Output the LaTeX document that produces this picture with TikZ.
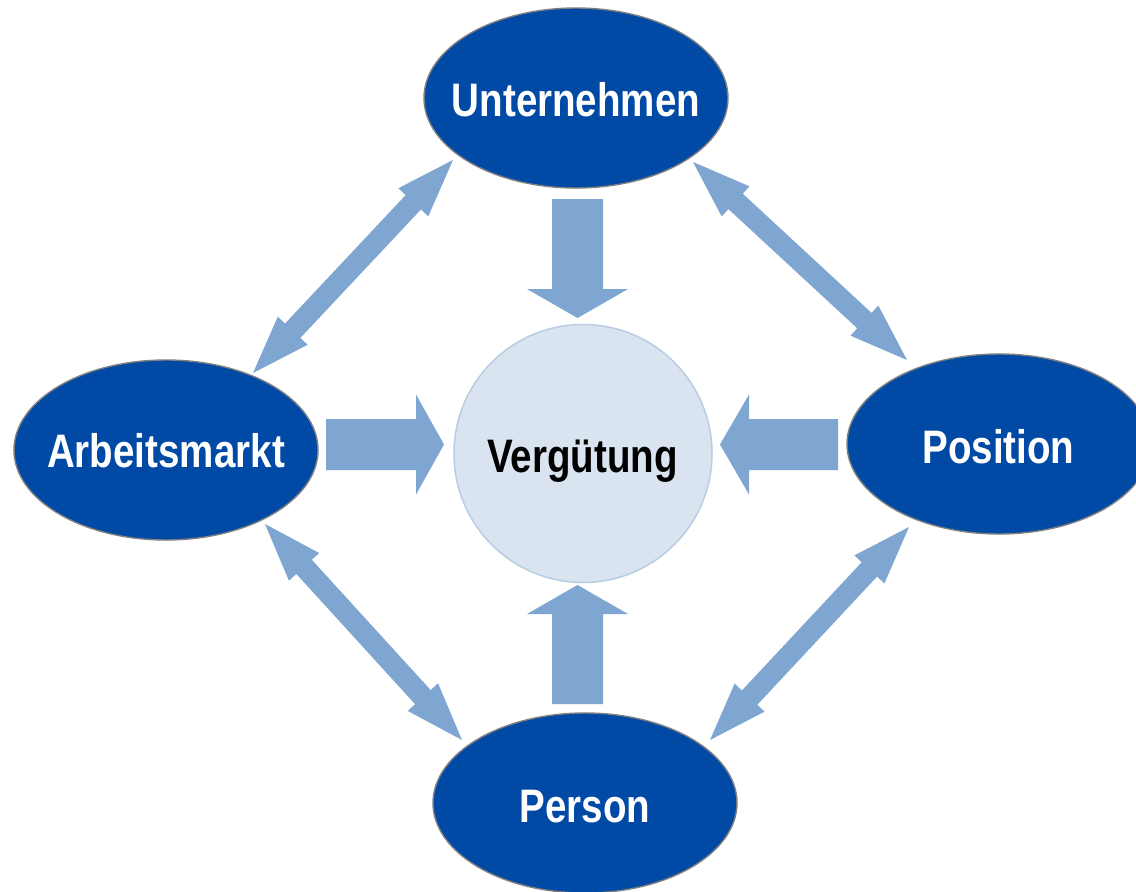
\documentclass[tikz,border=0pt]{standalone}
\usepackage{fontspec}
\newfontfamily\lblfont{Liberation Sans}[FakeStretch=0.82]
\usetikzlibrary{calc,shapes.geometric}
\definecolor{darkfill}{HTML}{004AA5}
\definecolor{edgegray}{HTML}{808080}
\definecolor{arrowblue}{HTML}{7FA5D1}
\definecolor{circfill}{HTML}{DAE4F0}
\definecolor{circedge}{HTML}{B8CCE4}
\newcommand\myblockarrow[5]{%
  \path let \p1=($(#2)-(#1)$) in \pgfextra{\pgfmathsetmacro\myang{atan2(\y1,\x1)}\pgfmathsetmacro\mylen{veclen(\x1,\y1)}\xdef\MYANG{\myang}\xdef\MYLEN{\mylen}};
  \fill[arrowfill,shift={(#1)},rotate=\MYANG] (0,-#3) -- (\MYLEN-#5,-#3) -- (\MYLEN-#5,-#4) -- (\MYLEN,0) -- (\MYLEN-#5,#4) -- (\MYLEN-#5,#3) -- (0,#3) -- cycle;
}
\newcommand\mydoublearrow[5]{%
  \path let \p1=($(#2)-(#1)$) in \pgfextra{\pgfmathsetmacro\myang{atan2(\y1,\x1)}\pgfmathsetmacro\mylen{veclen(\x1,\y1)}\xdef\MYANG{\myang}\xdef\MYLEN{\mylen}};
  \fill[arrowfill,shift={(#1)},rotate=\MYANG] (#5,-#3) -- (\MYLEN-#5,-#3) -- (\MYLEN-#5,-#4) -- (\MYLEN,0) -- (\MYLEN-#5,#4) -- (\MYLEN-#5,#3) -- (#5,#3) -- (#5,#4) -- (0,0) -- (#5,-#4) -- cycle;
}
\tikzset{
  arrowfill/.style={fill=arrowblue},
  ell/.style={ellipse, draw=edgegray, line width=1.4pt, fill=darkfill, minimum width=304pt, minimum height=180pt, inner sep=0pt},
  circ/.style={circle, draw=circedge, line width=1.5pt, fill=circfill, minimum size=258pt, inner sep=0pt},
  lbl/.style={anchor=base, inner sep=0pt, font=\lblfont\bfseries\fontsize{47}{50}\selectfont},
}
\begin{document}
\begin{tikzpicture}[x=1pt,y=-1pt]
\useasboundingbox (0,0) rectangle (1136,892);
\clip (0,0) rectangle (1136,892);
\fill[white] (0,0) rectangle (1136,892);
% nodes
\node[ell] (U) at (576,98) {};
\node[ell] (A) at (166,450) {};
\node[ell] (P) at (999,444) {};
\node[ell] (R) at (585,803) {};
\node[circ] (V) at (583,453.5) {};
\node[lbl,text=white] (Ut) at (576,116) {Unternehmen};
\node[lbl,text=white] (At) at (166,467) {Arbeitsmarkt};
\node[lbl,text=white] (Pt) at (998.5,463) {Position};
\node[lbl,text=white] (Rt) at (585,822) {Person};
\node[lbl,text=black] (Vt) at (582.5,472) {Vergütung};
% arrow endpoints
\coordinate (uS) at (577.5,199);
\coordinate (uE) at (577.5,318);
\coordinate (aS) at (326,444.5);
\coordinate (aE) at (444,444.5);
\coordinate (pS) at (838,444.5);
\coordinate (pE) at (720,444.5);
\coordinate (rS) at (577.5,704);
\coordinate (rE) at (577.5,585);
\coordinate (ua1) at (453,160);
\coordinate (ua2) at (253,373);
\coordinate (up1) at (693,162);
\coordinate (up2) at (907,360);
\coordinate (ar1) at (265,524);
\coordinate (ar2) at (462,740);
\coordinate (pr1) at (909,527);
\coordinate (pr2) at (710,740);
% block arrows
\myblockarrow{uS}{uE}{25.5}{50.5}{29}
\myblockarrow{aS}{aE}{25.5}{50}{28}
\myblockarrow{pS}{pE}{25.5}{50}{29}
\myblockarrow{rS}{rE}{25.5}{50.5}{29}
% double arrows
\mydoublearrow{ua1}{ua2}{10.5}{20.5}{58}
\mydoublearrow{up1}{up2}{10.5}{20.5}{58}
\mydoublearrow{ar1}{ar2}{10.5}{20.5}{58}
\mydoublearrow{pr1}{pr2}{10.5}{20.5}{58}
\end{tikzpicture}
\end{document}
